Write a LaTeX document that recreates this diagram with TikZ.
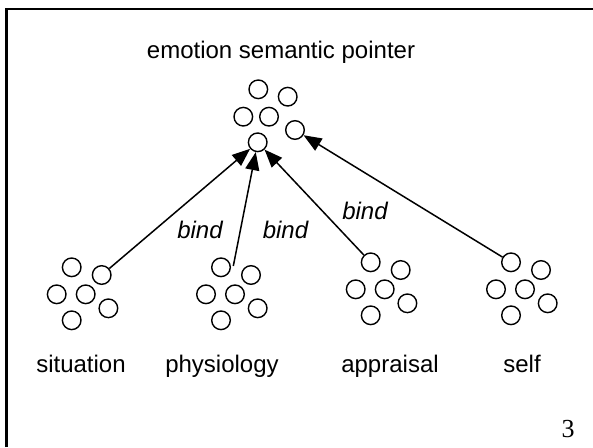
\documentclass[tikz,border=0pt]{standalone}
\usepackage{fontspec}
\setmainfont{Liberation Sans}
\newfontfamily\serifdigits{Liberation Serif}
\usetikzlibrary{arrows.meta,calc}

% six small rings arranged as one neural population
\newcommand{\ringgroup}[3]{%
  \node[ring] (#1a) at (#2,#3) {};
  \node[ring] (#1b) at ($(#1a)+(30,7.7)$) {};
  \node[ring] (#1c) at ($(#1a)+(-15,27)$) {};
  \node[ring] (#1d) at ($(#1a)+(14,27)$) {};
  \node[ring] (#1e) at ($(#1a)+(36.7,41)$) {};
  \node[ring] (#1f) at ($(#1a)+(0,53)$) {};
}

\begin{document}
\begin{tikzpicture}[x=1pt,y=-1pt,
  ring/.style={circle,draw,line width=1.4pt,inner sep=0pt,minimum size=18.6pt},
  arr/.style={line width=1.5pt,-{Triangle[length=18pt,width=14pt]}},
  lbl/.style={font=\fontsize{24}{28}\selectfont,anchor=base,inner sep=0pt},
  bindlbl/.style={font=\fontsize{24}{28}\selectfont\itshape,anchor=base,inner sep=0pt},
  frameline/.style={line width=2.4pt}]
\useasboundingbox (0,0) rectangle (593,447);

% slide frame, top and left edges
\draw[frameline] (6.5,447) -- (6.5,8.7) -- (593,8.7);

% top population: emotion semantic pointer
\node[ring] (ea) at (258.3,89.3) {};
\node[ring] (eb) at (287.7,96.7) {};
\node[ring] (ec) at (243.3,116.7) {};
\node[ring] (ed) at (269,116.7) {};
\node[ring] (ee) at (295,130) {};
\node[ring] (ef) at (257.7,142.3) {};
\node[lbl] (title) at (281,58) {emotion semantic pointer};

% lower populations
\ringgroup{s}{71.7}{267.3}
\ringgroup{p}{221}{267.3}
\ringgroup{a}{370.7}{262.3}
\ringgroup{f}{511}{262.3}

\node[lbl] (sit) at (81,372) {situation};
\node[lbl] (phy) at (222,372) {physiology};
\node[lbl] (app) at (390,372) {appraisal};
\node[lbl] (slf) at (522,372) {self};

% binding connections
\coordinate (pstart) at (233.3,266);
\draw[arr] (sb) -- (ef);
\draw[arr] (pstart) -- (ef);
\draw[arr] (aa) -- (ef);
\draw[arr] (fa) -- (ee);

\node[bindlbl] (b1) at (200,238.3) {bind};
\node[bindlbl] (b2) at (285.5,238.3) {bind};
\node[bindlbl] (b3) at (365,219) {bind};

% page number
\node[font=\serifdigits\fontsize{26}{30}\selectfont,anchor=base,inner sep=0pt] (pg) at (568,437) {3};
\end{tikzpicture}
\end{document}
